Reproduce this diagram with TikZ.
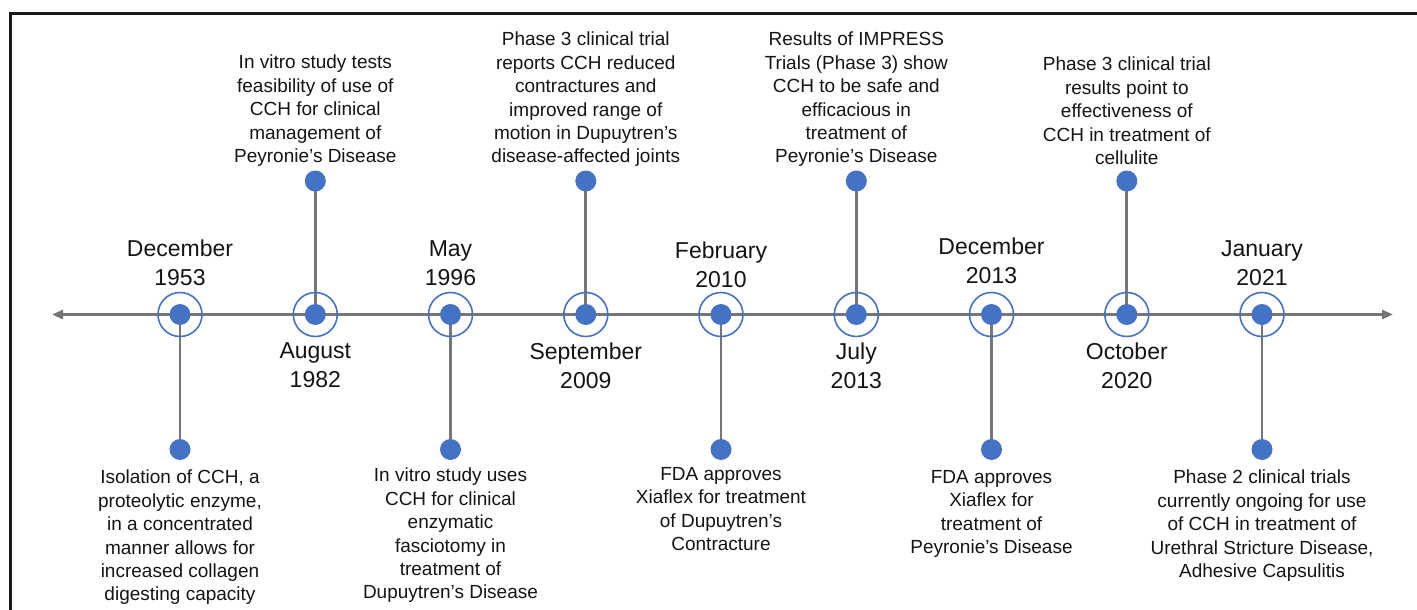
\documentclass[tikz,border=0pt]{standalone}
\usepackage{fontspec}
\setmainfont{Liberation Sans}
\usetikzlibrary{arrows.meta,backgrounds}
\definecolor{evblue}{HTML}{4472C4}
\definecolor{axisgray}{HTML}{767676}
\definecolor{txt}{HTML}{141414}
\begin{document}
\begin{tikzpicture}[x=1pt,y=-1pt,
  ring/.style={circle,draw=evblue,line width=1.6pt,minimum size=44pt,inner sep=0pt},
  dot/.style={circle,fill=evblue,minimum size=21pt,inner sep=0pt},
  desc/.style={anchor=north,align=center,inner sep=0pt,text=txt,font=\fontsize{19}{23.4}\selectfont},
  datel/.style={anchor=north,align=center,inner sep=0pt,text=txt,font=\fontsize{23}{29}\selectfont},
  stem/.style={draw=axisgray,line width=2.7pt},
  axisline/.style={draw=axisgray,line width=2.8pt,{Triangle[length=11pt,width=9pt]}-{Triangle[length=11pt,width=9pt]}},
  frameline/.style={draw=black!90,line width=2.3pt}]
\useasboundingbox (0,0) rectangle (1417,610);

% frame
\coordinate (fa) at (10.5,610);
\coordinate (fb) at (10.5,13.5);
\coordinate (fc) at (1417,13.5);
\draw[frameline] (fa) -- (fb) -- (fc);

% axis end points
\coordinate (axL) at (52,314.5);
\coordinate (axR) at (1393,314.5);

% 1 December 1953
\node[dot] (c1) at (180,314.5) {};
\node[ring] (r1) at (180,314.5) {};
\node[dot] (s1) at (180,449.5) {};
\node[datel] (d1) at (180,240) {December\\1953};
\node[desc] (t1) at (180,470) {Isolation of CCH, a\\proteolytic enzyme,\\in a concentrated\\manner allows for\\increased collagen\\digesting capacity};

% 2 August 1982
\node[dot] (c2) at (315.3,314.5) {};
\node[ring] (r2) at (315.3,314.5) {};
\node[dot] (s2) at (315.3,181) {};
\node[datel] (d2) at (315.3,342) {August\\1982};
\node[desc] (t2) at (315.3,55) {In vitro study tests\\feasibility of use of\\CCH for clinical\\management of\\Peyronie’s Disease};

% 3 May 1996
\node[dot] (c3) at (450.5,314.5) {};
\node[ring] (r3) at (450.5,314.5) {};
\node[dot] (s3) at (450.5,449.5) {};
\node[datel] (d3) at (450.5,240) {May\\1996};
\node[desc] (t3) at (450.5,468) {In vitro study uses\\CCH for clinical\\enzymatic\\fasciotomy in\\treatment of\\Dupuytren’s Disease};

% 4 September 2009
\node[dot] (c4) at (585.8,314.5) {};
\node[ring] (r4) at (585.8,314.5) {};
\node[dot] (s4) at (585.8,181) {};
\node[datel] (d4) at (585.8,343) {September\\2009};
\node[desc] (t4) at (585.8,32) {Phase 3 clinical trial\\reports CCH reduced\\contractures and\\improved range of\\motion in Dupuytren’s\\disease-affected joints};

% 5 February 2010
\node[dot] (c5) at (721,314.5) {};
\node[ring] (r5) at (721,314.5) {};
\node[dot] (s5) at (721,449.5) {};
\node[datel] (d5) at (721,242) {February\\2010};
\node[desc] (t5) at (721,467) {FDA approves\\Xiaflex for treatment\\of Dupuytren’s\\Contracture};

% 6 July 2013
\node[dot] (c6) at (856.3,314.5) {};
\node[ring] (r6) at (856.3,314.5) {};
\node[dot] (s6) at (856.3,181) {};
\node[datel] (d6) at (856.3,343) {July\\2013};
\node[desc] (t6) at (856.3,32) {Results of IMPRESS\\Trials (Phase 3) show\\CCH to be safe and\\efficacious in\\treatment of\\Peyronie’s Disease};

% 7 December 2013
\node[dot] (c7) at (991.5,314.5) {};
\node[ring] (r7) at (991.5,314.5) {};
\node[dot] (s7) at (991.5,449.5) {};
\node[datel] (d7) at (991.5,238) {December\\2013};
\node[desc] (t7) at (991.5,470) {FDA approves\\Xiaflex for\\treatment of\\Peyronie’s Disease};

% 8 October 2020
\node[dot] (c8) at (1126.8,314.5) {};
\node[ring] (r8) at (1126.8,314.5) {};
\node[dot] (s8) at (1126.8,181) {};
\node[datel] (d8) at (1126.8,343) {October\\2020};
\node[desc] (t8) at (1126.8,57) {Phase 3 clinical trial\\results point to\\effectiveness of\\CCH in treatment of\\cellulite};

% 9 January 2021
\node[dot] (c9) at (1262,314.5) {};
\node[ring] (r9) at (1262,314.5) {};
\node[dot] (s9) at (1262,449.5) {};
\node[datel] (d9) at (1262,240) {January\\2021};
\node[desc] (t9) at (1262,470) {Phase 2 clinical trials\\currently ongoing for use\\of CCH in treatment of\\Urethral Stricture Disease,\\Adhesive Capsulitis};

\begin{scope}[on background layer]
  \draw[axisline] (axL) -- (axR);
  \foreach \i in {1,...,9} {
    \draw[stem] (c\i.center) -- (s\i.center);
  }
\end{scope}
\end{tikzpicture}
\end{document}
